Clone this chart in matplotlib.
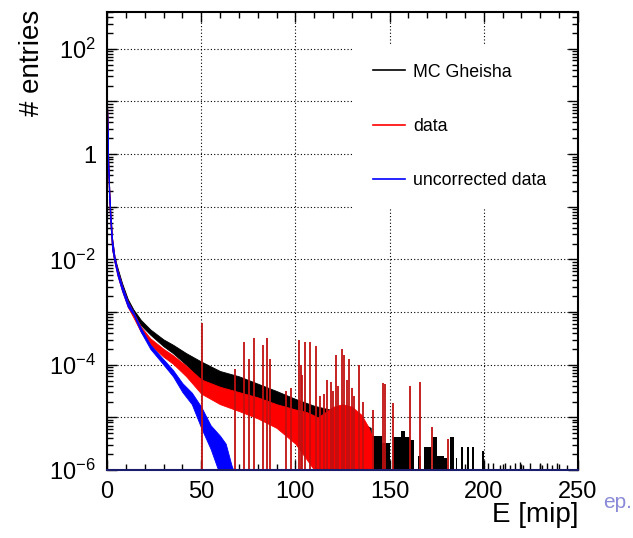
import numpy as np
import matplotlib.pyplot as plt
from matplotlib.lines import Line2D
from matplotlib.ticker import FixedLocator, MultipleLocator, NullFormatter, FuncFormatter

plt.rcParams['font.family'] = ['Liberation Sans', 'DejaVu Sans']
plt.rcParams['mathtext.fontset'] = 'custom'
plt.rcParams['mathtext.rm'] = 'Liberation Sans'
plt.rcParams['mathtext.it'] = 'Liberation Sans:italic'

# band envelopes, in log10(entries)
mc_e = [0, 0.5, 1, 1.6, 2.7, 4, 5.5, 8, 11, 14, 18, 23, 30, 35, 42, 50, 60, 70,
        80, 90, 100, 110, 118, 125, 132, 140]
mc_hi = [1.0, 0.1, -0.5, -1.0, -1.6, -1.95, -2.15, -2.45, -2.75, -2.95, -3.15,
         -3.33, -3.52, -3.62, -3.78, -3.94, -4.12, -4.22, -4.36, -4.5, -4.65,
         -4.78, -4.85, -4.95, -5.05, -5.2]
mc_lo = [1.0, -0.1, -0.7, -1.2, -1.8, -2.05, -2.25, -2.55, -2.85, -3.05, -3.25,
         -3.43, -3.65, -3.78, -4.0, -4.3, -4.5, -4.62, -4.75, -4.9, -5.05,
         -5.3, -6.1, -6.1, -6.1, -6.1]

data_e = [0, 0.5, 1, 1.6, 2.7, 4, 5.5, 8, 11, 14, 18, 23, 30, 35, 42, 50, 60, 70,
          80, 90, 100, 106, 112, 116, 120, 125, 130, 135, 139, 141]
data_hi = [1.0, 0.1, -0.5, -1.0, -1.6, -1.95, -2.2, -2.5, -2.8, -3.0, -3.28,
           -3.5, -3.7, -3.82, -4.02, -4.28, -4.42, -4.52, -4.62, -4.75, -4.85,
           -4.9, -5.0, -4.9, -4.8, -4.75, -4.8, -4.95, -5.2, -5.4]
data_lo = [1.0, -0.1, -0.7, -1.2, -1.8, -2.05, -2.3, -2.6, -2.9, -3.1, -3.38,
           -3.62, -3.85, -3.98, -4.22, -4.55, -4.75, -4.88, -5.02, -5.2, -5.5,
           -5.8, -6.1, -6.1, -6.1, -6.1, -6.1, -6.1, -6.1, -6.1]

unc_e = [0, 0.5, 1, 1.6, 2.7, 4, 5.5, 8, 11, 14, 18, 23, 30, 35, 40, 45, 50, 55,
         60, 63, 66, 68]
unc_hi = [1.0, 0.1, -0.5, -1.0, -1.6, -1.95, -2.2, -2.5, -2.8, -3.0, -3.3, -3.62,
          -3.9, -4.1, -4.35, -4.53, -4.8, -5.15, -5.35, -5.5, -5.9, -6.1]
unc_lo = [1.0, -0.1, -0.7, -1.2, -1.8, -2.05, -2.3, -2.6, -2.9, -3.05, -3.38,
          -3.7, -4.0, -4.22, -4.52, -4.75, -5.2, -5.6, -6.1, -6.1, -6.1, -6.1]

# narrow peaks in data
spike_e = [50.6, 68, 72.7, 75.6, 78, 83, 84.9, 86.5, 95, 97.5, 101.9, 102.8,
           103.6, 105, 108, 110.8, 113, 115, 117, 118.9, 120.2, 121.4, 122.8,
           124.6, 125.8, 127.2, 128.5, 129.9, 131.3, 133.9, 136, 141.3, 146.3,
           147.6, 152, 160.8, 166, 172.3, 181]
spike_top = [-3.2, -4.08, -3.56, -3.89, -3.5, -3.62, -3.49, -3.9, -4.5, -4.45,
             -3.54, -4.0, -4.2, -3.56, -3.56, -3.64, -4.6, -4.55, -4.3, -4.32,
             -4.5, -3.81, -4.4, -3.7, -3.81, -4.3, -3.89, -4.44, -4.6, -4.0,
             -4.7, -4.86, -4.34, -4.36, -4.72, -4.41, -4.32, -5.18, -5.41]

# MC single-count bins in the tail
blk_e = [140, 146, 152, 156, 158, 161, 165, 168, 173, 175, 179, 182, 185, 188,
         191, 194, 199]
blk_w = [6, 4, 4, 2, 3, 2, 1.5, 4, 2, 4, 1.5, 2, 1, 1, 1, 1, 1]
blk_top = [-5.37, -5.5, -5.38, -5.27, -5.38, -5.45, -5.75, -5.58, -5.38, -5.75,
           -5.8, -5.38, -5.8, -5.58, -5.58, -5.58, -5.66]
tail_e = [202.4, 205, 208.6, 211.3, 213.9, 216.6, 219.2, 221, 224.5, 229.8,
          230.7, 233.4, 236, 238.7, 244]
tail_top = [-5.87, -5.87, -5.9, -5.87, -5.9, -5.87, -5.85, -5.9, -5.87, -5.87,
            -5.9, -5.87, -5.9, -5.87, -5.9]

fig = plt.figure(figsize=(6.33, 5.38), dpi=100)
ax = fig.add_axes([107/633, 1-470/538, 471/633, 458/538])
ax.set_yscale('log')
ax.set_xlim(0, 250)
ax.set_ylim(1e-6, 500)

low = 1e-7
ax.fill_between(mc_e, 10**np.array(mc_lo), 10**np.array(mc_hi), color='black', lw=0.6)
ax.bar(blk_e, 10**np.array(blk_top), width=blk_w, bottom=low, align='edge',
       color='black', lw=0)
ax.vlines(tail_e, low, 10**np.array(tail_top), color='black', lw=1)
ax.fill_between(data_e, 10**np.array(data_lo), 10**np.array(data_hi), color='#ff0000', lw=0.6)
ax.vlines(spike_e, low, 10**np.array(spike_top), color='#c01010', lw=1.3)
ax.fill_between(unc_e, 10**np.array(unc_lo), 10**np.array(unc_hi), color='#0000ff', lw=0.6)

ax.grid(True, which='major', color='black', ls=(0, (1, 2)), lw=0.8)
ax.set_axisbelow(True)

ax.xaxis.set_major_locator(MultipleLocator(50))
ax.xaxis.set_minor_locator(MultipleLocator(10))
ax.yaxis.set_major_locator(FixedLocator([10.0**k for k in range(-6, 3)]))
ax.yaxis.set_minor_locator(FixedLocator([m * 10.0**k for k in range(-6, 3) for m in range(2, 10)]))
ax.yaxis.set_minor_formatter(NullFormatter())

def ylab(v, pos):
    k = int(round(np.log10(v)))
    if k % 2:
        return ''
    if k == 0:
        return '1'
    return r'$10^{%d}$' % k

ax.yaxis.set_major_formatter(FuncFormatter(ylab))
ax.tick_params(which='both', direction='in', top=True, right=True, labelsize=17, width=1)
ax.tick_params(which='major', length=7)
ax.tick_params(which='minor', length=4)
ax.tick_params(axis='x', pad=8)
ax.tick_params(axis='y', pad=8)
for s in ax.spines.values():
    s.set_linewidth(1.5)
ax.spines['bottom'].set_color('#1c1c6c')

ax.set_ylabel('# entries', fontsize=20, loc='top')
ax.yaxis.set_label_coords(-0.132, 1.004)
ax.set_xlabel('E [mip]', fontsize=20, loc='right')
ax.xaxis.set_label_coords(1.0, -0.07)

handles = [Line2D([], [], color='black', lw=1.2),
           Line2D([], [], color='#ff0000', lw=1.2),
           Line2D([], [], color='#0000ff', lw=1.2)]
leg = ax.legend(handles, ['MC Gheisha', 'data', 'uncorrected data'],
                loc='upper left', bbox_to_anchor=(0.524, 0.93), fontsize=12.8,
                frameon=True, fancybox=False, edgecolor='none', facecolor='white',
                framealpha=1, borderaxespad=0, labelspacing=2.1, handlelength=1.8,
                handletextpad=0.45, borderpad=1.1)

fig.text(632/633, 1-503/538, 'ep.', color='#8a8ad8', fontsize=15, va='center', ha='right')

fig.savefig('out.png', dpi=100)
